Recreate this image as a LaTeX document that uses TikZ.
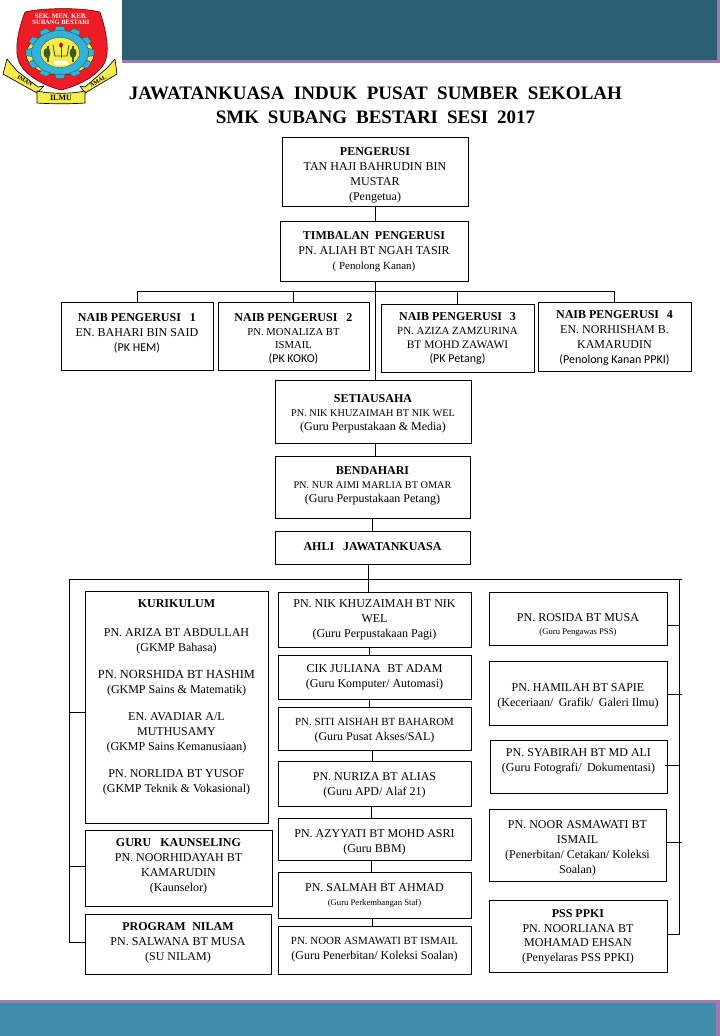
\documentclass[tikz,border=0pt]{standalone}
\usepackage{fontspec}
\setmainfont{Liberation Serif}
\newfontfamily\calibri{Carlito}
\newcommand\bl{11.25}
\newcommand\fsz[1]{\fontsize{#1}{\bl}\selectfont}
% name x1 y1 x2 y2 top-offset(px) text
\newcommand\bx[7]{\node[orgbox,anchor=north west] (#1) at (#2,#3) {\parbox[c][\dimexpr(#5pt-#3pt)*3/4\relax][t]{\dimexpr(#4pt-#2pt)*3/4\relax}{\centering\fsz{9}\vspace*{\dimexpr#6pt*3/4\relax}#7\par}};}
\definecolor{teald}{HTML}{2C5F74}
\definecolor{teall}{HTML}{3F8CAB}
\definecolor{purp}{HTML}{9C7AB4}
\definecolor{logored}{HTML}{EE1C25}
\definecolor{logoyel}{HTML}{F7EC4A}
\definecolor{logocy}{HTML}{2FB4DC}
\definecolor{logogr}{HTML}{3C5A28}
\tikzset{
  orgbox/.style={draw=black,line width=0.7pt,inner sep=0pt,outer sep=0pt,fill=white,text=black},
  link/.style={draw=black,line width=0.65pt},
  logoline/.style={draw=black!70!red,line width=0.4pt},
  ribbon/.style={fill=logoyel,draw=black,line width=0.5pt,line join=round},
}
\begin{document}
\begin{tikzpicture}[x=0.75pt,y=-0.75pt]
\useasboundingbox (0,0) rectangle (720,1036);
% header and footer bands
\fill[teald] (122,0) rectangle (717,60);
\fill[purp] (122,60) rectangle (720,63);
\fill[purp] (717,0) rectangle (720,63);
\fill[purp] (0,1000) rectangle (720,1003);
\fill[teall] (0,1003) rectangle (716,1036);
\fill[purp] (716,1000) rectangle (720,1036);
% logo
\path[ribbon] (3,74) -- (7,59) -- (17,71) -- (38,87) -- (44,86) -- (37,93) -- cycle;
\path[ribbon] (117,74) -- (115,59) -- (107,68) -- (85,87) -- (80,86) -- (85,93) -- cycle;
\path[fill=logored,logoline] (25,12) .. controls (40,8) and (80,7) .. (100,12)
  .. controls (106,30) and (110,50) .. (105,62) .. controls (98,76) and (78,86) .. (61,90)
  .. controls (45,86) and (25,76) .. (19,62) .. controls (14,50) and (18,30) .. (25,12) -- cycle;
\fill[logoyel,draw=black,line width=0.3pt] (60,54) ellipse [x radius=34,y radius=21];
\begin{scope}[shift={(60,52.5)},yscale=0.77]
  \foreach \a in {0,30,...,330}
    \fill[logocy,draw=black!70,line width=0.3pt,rotate=\a] (-4,-34) -- (4,-34) -- (5.5,-27) -- (-5.5,-27) -- cycle;
  \fill[logocy,draw=black!70,line width=0.3pt] (0,0) circle (28.5);
  \fill[logoyel,draw=black!70,line width=0.3pt] (0,0) circle (19.5);
\end{scope}
\fill[logogr] (47,53) ellipse [x radius=3.5,y radius=5];
\fill[logogr] (73,53) ellipse [x radius=3.5,y radius=5];
\fill[logogr] (47,46) rectangle (48.5,62);
\fill[logogr] (72,46) rectangle (73.5,62);
\draw[logogr,line width=0.7pt] (53,45) -- (55,56) -- (67,56) -- (69,45);
\fill[red!80!black] (61,45) ellipse [x radius=1.8,y radius=2.5];
\draw[logogr,line width=0.6pt] (61,47) -- (61,58);
\fill[white] (54,61) rectangle (68,65);
\path[ribbon] (37,91) .. controls (50,94) and (72,94) .. (85,91) -- (85,103) .. controls (72,104) and (50,104) .. (37,103) -- cycle;
\node[text=white,font=\bfseries\fontsize{5.1}{5.5}\selectfont,inner sep=0pt] (logoa) at (61,16.5) {SEK. MEN. KEB.};
\node[text=white,font=\bfseries\fontsize{4.9}{5.5}\selectfont,inner sep=0pt] (logob) at (61,22) {SUBANG BESTARI};
\node[font=\bfseries\fontsize{6}{6}\selectfont,inner sep=0pt] (logoc) at (61,97.5) {ILMU};
\node[font=\bfseries\fontsize{4.5}{5}\selectfont,inner sep=0pt,rotate=-30] (logod) at (25,80.5) {IMAN};
\node[font=\bfseries\fontsize{4.5}{5}\selectfont,inner sep=0pt,rotate=30] (logoe) at (98,81.5) {AMAL};
% title
\node[font=\bfseries\fontsize{14.25}{18}\selectfont,align=center,inner sep=0pt,text=black] (title) at (375.5,105)
  {JAWATANKUASA\hspace{.25em} INDUK\hspace{.25em} PUSAT\hspace{.25em} SUMBER\hspace{.25em} SEKOLAH\\SMK\hspace{.22em} SUBANG\hspace{.22em} BESTARI\hspace{.22em} SESI\hspace{.22em} 2017};
% boxes
\bx{pen}{282}{137}{468}{206}{10.5}{\bfseries PENGERUSI\\\normalfont TAN HAJI BAHRUDIN BIN\\MUSTAR\\(Pengetua)}
\bx{tim}{280}{221}{468}{281}{11}{\bfseries TIMBALAN\hspace{.25em} PENGERUSI\\\normalfont PN. ALIAH BT NGAH TASIR\\\fsz{8.2}( Penolong Kanan)}
\bx{nb1}{61}{302}{213}{370}{12}{\bfseries NAIB PENGERUSI\hspace{.5em} 1\\\normalfont EN. BAHARI BIN SAID\\\calibri\fsz{9}(PK HEM)}
\bx{nb2}{218}{302}{369}{370}{12}{\bfseries NAIB PENGERUSI\hspace{.5em} 2\\[-1.2pt]\normalfont\fsz{8}PN. MONALIZA BT\\[-1.2pt]ISMAIL\\[-.8pt]\calibri\fsz{9}(PK KOKO)}
\bx{nb3}{381}{304}{534}{372}{9}{\bfseries NAIB PENGERUSI\hspace{.4em} 3\\[-1.2pt]\normalfont\fsz{8.2}PN. AZIZA ZAMZURINA\\[-.8pt]\fsz{8.6}BT MOHD ZAWAWI\\[-.8pt]\calibri\fsz{9}(PK Petang)}
\bx{nb4}{538}{302}{691}{371}{9}{\bfseries NAIB PENGERUSI\hspace{.4em} 4\\\normalfont EN. NORHISHAM B.\\[-.4pt]KAMARUDIN\\\calibri\fsz{9}(Penolong Kanan PPKI)}
\bx{set}{275}{380}{471}{443}{15}{\bfseries SETIAUSAHA\\[-1.2pt]\normalfont\fsz{7.7}PN. NIK KHUZAIMAH BT NIK WEL\\[-.8pt]\fsz{9}(Guru Perpustakaan \& Media)}
\bx{ben}{275}{456}{470}{518}{11}{\bfseries BENDAHARI\\[-1.2pt]\normalfont\fsz{7.7}PN. NUR AIMI MARLIA BT OMAR\\[-.8pt]\fsz{9}(Guru Perpustakaan Petang)}
\bx{ahl}{275}{531}{470}{564}{12}{\bfseries AHLI\hspace{.5em} JAWATANKUASA}
\bx{kur}{85}{591}{268}{823}{9}{\bfseries KURIKULUM\\[10.5pt]\normalfont PN. ARIZA BT ABDULLAH\\(GKMP Bahasa)\\[9pt]\fsz{9.3}PN. NORSHIDA BT HASHIM\\\fsz{9}(GKMP Sains \& Matematik)\\[9pt]EN. AVADIAR A/L\\MUTHUSAMY\\[-.4pt](GKMP Sains Kemanusiaan)\\[9pt]PN. NORLIDA BT YUSOF\\(GKMP Teknik \& Vokasional)}
\bx{kau}{85}{830}{272}{906}{8.5}{\bfseries GURU\hspace{.5em} KAUNSELING\\\normalfont PN. NOORHIDAYAH BT\\KAMARUDIN\\(Kaunselor)}
\bx{nil}{85}{914}{271}{974}{9}{\bfseries PROGRAM\hspace{.3em} NILAM\\\normalfont PN. SALWANA BT MUSA\\(SU NILAM)}
\bx{m1}{278}{592}{471}{647}{8}{PN. NIK KHUZAIMAH BT NIK\\WEL\\(Guru Perpustakaan Pagi)}
\bx{m2}{278}{655}{471}{699}{10}{CIK JULIANA\hspace{.3em} BT ADAM\\(Guru Komputer/ Automasi)}
\bx{m3}{278}{707}{471}{750}{11}{\fsz{8.2}PN. SITI AISHAH BT BAHAROM\\\fsz{9}(Guru Pusat Akses/SAL)}
\bx{m4}{278}{761}{471}{806}{12}{PN. NURIZA BT ALIAS\\(Guru APD/ Alaf 21)}
\bx{m5}{278}{818}{471}{860}{12}{PN. AZYYATI BT MOHD ASRI\\(Guru BBM)}
\bx{m6}{278}{872}{471}{918}{11.5}{PN. SALMAH BT AHMAD\\[-1pt]\fsz{6.5}(Guru Perkembangan Staf)}
\bx{m7}{278}{926}{471}{974}{11}{\fsz{8.2}PN. NOOR ASMAWATI BT ISMAIL\\\fsz{9}(Guru Penerbitan/ Koleksi Soalan)}
\bx{r1}{489}{592}{667}{645}{22}{PN. ROSIDA BT MUSA\\[-2pt]\fsz{6.5}(Guru Pengawas PSS)}
\bx{r2}{489}{661}{667}{725}{23}{PN. HAMILAH BT SAPIE\\(Keceriaan/\hspace{.2em} Grafik/\hspace{.2em} Galeri Ilmu)}
\bx{r3}{490}{740}{667}{793}{9}{PN. SYABIRAH BT MD ALI\\(Guru Fotografi/\hspace{.2em} Dokumentasi)}
\bx{r4}{489}{809}{666}{881}{12}{PN. NOOR ASMAWATI BT\\ISMAIL\\(Penerbitan/ Cetakan/ Koleksi\\Soalan)}
\bx{r5}{489}{900}{667}{972}{10}{\bfseries PSS PPKI\\[-.4pt]\normalfont PN. NOORLIANA BT\\[-.4pt]MOHAMAD EHSAN\\(Penyelaras PSS PPKI)}
% guide coordinates
\coordinate (sp) at (375,0);
\coordinate (naibus) at (0,291);
\coordinate (busL) at (69,579);
\coordinate (busR) at (682,579);
\coordinate (spR) at (679,0);
\coordinate (tk1) at (0,712);
\coordinate (tk2) at (0,866);
\coordinate (tk3) at (0,942);
\coordinate (rk1) at (0,625);
\coordinate (rk2) at (0,694);
\coordinate (rk3) at (0,765);
\coordinate (rk4) at (0,842);
\coordinate (rk5) at (0,934);
\coordinate (h1) at (372,0);
\coordinate (h2) at (368,0);
\coordinate (h3) at (369,0);
\coordinate (h4) at (371,0);
% connectors
\draw[link] (pen.south -| sp) -- (tim.north -| sp);
\draw[link] (tim.south -| sp) -- (set.north -| sp);
\draw[link] (nb1.north) -- (nb1.north |- naibus) -- (nb4.north |- naibus) -- (nb4.north);
\draw[link] (nb2.north) -- (nb2.north |- naibus);
\draw[link] (nb3.north) -- (nb3.north |- naibus);
\draw[link] (set.south -| sp) -- (ben.north -| sp);
\draw[link] (ben.south -| h1) -- (ahl.north -| h1);
\draw[link] (ahl.south -| h2) -- (m1.north -| h2);
\draw[link] (m1.south -| h3) -- (m2.north -| h3);
\draw[link] (m2.south -| h3) -- (m3.north -| h3);
\draw[link] (m3.south -| h1) -- (m4.north -| h1);
\draw[link] (m4.south -| h4) -- (m5.north -| h4);
\draw[link] (m5.south -| h4) -- (m6.north -| h4);
\draw[link] (m6.south -| h1) -- (m7.north -| h1);
\draw[link] (nil.west |- tk3) -- (busL |- tk3) -- (busL) -- (busR);
\draw[link] (kur.west |- tk1) -- (busL |- tk1);
\draw[link] (kau.west |- tk2) -- (busL |- tk2);
\draw[link] (spR |- busL) -- (spR |- rk5) -- (r5.east |- rk5);
\draw[link] (r1.east |- rk1) -- (spR |- rk1);
\draw[link] (r2.east |- rk2) -- (busR |- rk2);
\draw[link] (r3.east |- rk3) ++(-2,0) -- (spR |- rk3);
\draw[link] (r4.east |- rk4) -- (busR |- rk4);
\end{tikzpicture}
\end{document}
